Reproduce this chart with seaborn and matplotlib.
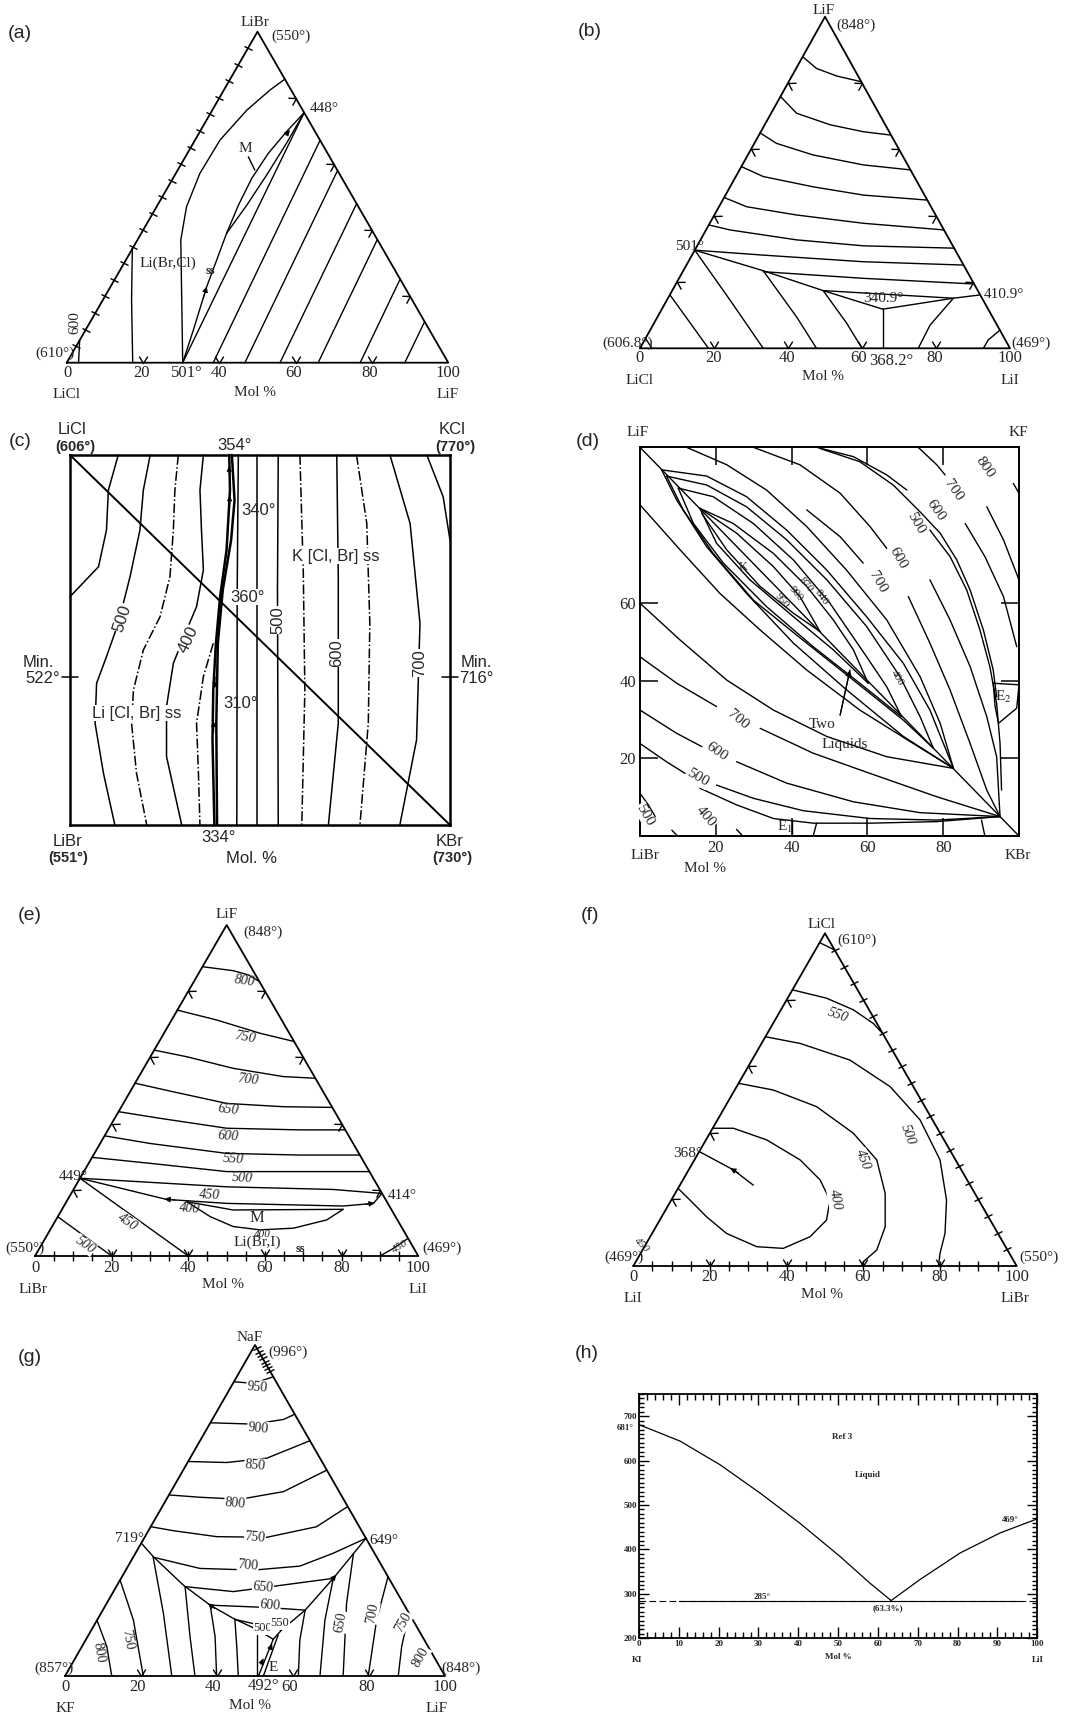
import numpy as np
import matplotlib
matplotlib.use("Agg")
import matplotlib.pyplot as plt
from matplotlib.markers import MarkerStyle
from matplotlib.path import Path
from matplotlib.transforms import Affine2D
from matplotlib.ticker import MultipleLocator
import seaborn as sns

# ---------------------------------------------------------------
# data
# triangle panels: x = % along the base, y = % of the height (apex 50,100)
# square panels: x, y in mol %
# ---------------------------------------------------------------
TRIANGLE = [(0, 0), (100, 0), (50, 100), (0, 0)]
EDGE_20 = [20, 40, 60, 80]
EDGE_5 = [5, 10, 15, 20, 25, 30, 35, 40, 45, 50, 55, 60, 65, 70, 75, 80, 85, 90, 95]

# (a) LiCl - LiBr - LiF
A_ISO_600 = [(3.4, 6.8), (3.1, 0)]
A_ISO_LEFT = [(17.2, 34.5), (17.0, 18.9), (17.3, 0)]
A_ISO_BIG = [(30.4, 0), (29.9, 37.1), (31.4, 47.1), (34.9, 57.2), (40.2, 67.3),
             (47.2, 76.3), (53.3, 82.4), (57.2, 85.7)]
A_SS = [(30.4, 0), (33.2, 9.9), (36.7, 23.0), (39.3, 31.0), (41.9, 39.1)]
A_LENS_L = [(41.9, 39.1), (45.0, 47.6), (48.5, 55.7), (52.8, 63.2), (57.6, 69.8), (62.2, 75.5)]
A_LENS_R = [(41.9, 39.1), (47.2, 47.6), (52.4, 56.7), (57.6, 66.3), (62.2, 75.5)]
A_501_448 = [(30.4, 0), (62.2, 75.5)]
A_PAR_BASE = [38.4, 46.7, 55.9, 65.9, 76.9, 88.6]
A_PAR_TOP = [(66.4, 67.2), (71.0, 58.1), (76.0, 48.1), (81.4, 37.2), (87.4, 25.3), (93.8, 12.4)]
A_M_PTR = [(47.6, 62.2), (49.3, 58.2)]

# (b) LiCl - LiF - LiI
B_ISO = [
    [(44.0, 87.9), (47.7, 84.4), (53.2, 82.1), (59.8, 80.4)],
    [(38.0, 75.9), (42.3, 70.9), (51.4, 67.4), (60.4, 65.3), (67.8, 64.3)],
    [(32.4, 65.0), (36.9, 61.8), (46.8, 58.3), (60.4, 55.3), (73.1, 53.8)],
    [(27.4, 54.8), (33.3, 51.8), (46.8, 48.7), (60.4, 46.2), (77.6, 44.7)],
    [(22.7, 45.5), (28.8, 42.7), (42.3, 40.2), (60.4, 37.7), (82.1, 35.7)],
    [(18.6, 37.2), (24.3, 35.7), (42.3, 32.7), (60.4, 30.9), (84.9, 30.2)],
    [(14.8, 29.6), (33.3, 28.1), (60.4, 26.1), (87.4, 25.1)],
    [(33.3, 23.1), (60.4, 21.1), (90.3, 19.4)],
]
B_VALLEY = [(14.8, 29.6), (33.3, 23.4), (49.5, 17.4), (65.6, 11.8)]
B_UPPER = [(49.5, 17.4), (84.7, 15.1)]
B_LOWER = [(65.6, 11.8), (84.7, 15.1), (91.9, 16.1)]
B_EUT = [(65.6, 11.8), (65.6, 0)]
B_SLANTS = [
    [(8.1, 16.1), (18.5, 0)],
    [(14.8, 29.6), (24.3, 14.6), (33.3, 0)],
    [(33.3, 23.4), (42.3, 9.5), (47.7, 0)],
    [(49.5, 17.4), (55.9, 7.5), (60.0, 0)],
    [(84.7, 15.1), (78.4, 7.0), (75.2, 0)],
    [(97.3, 5.5), (94.1, 2.5), (92.8, 0)],
    [(1.5, 3.0), (3.2, 0)],
]

# (c) LiCl - KCl - LiBr - KBr reciprocal square
C_DIAG = [(0, 100), (100, 0)]
C_SOLID = [
    [(12.7, 100), (10.1, 90.5), (9.6, 79.7), (7.5, 69.8), (0, 61.7)],
    [(21.1, 100), (19.3, 90.5), (18.4, 79.7), (15.8, 67.1), (12.7, 54.5), (9.6, 45.5),
     (7.0, 38.3), (6.6, 27.5), (8.8, 14.0), (11.8, 0)],
    [(35.1, 100), (34.2, 90.5), (34.6, 79.7), (35.1, 68.9), (33.3, 59.0), (30.7, 52.7),
     (27.2, 43.7), (25.4, 32.0), (25.4, 18.5), (29.4, 0)],
    [(44.3, 100), (44.0, 63.5), (43.9, 0)],
    [(49.1, 100), (49.1, 0)],
    [(54.8, 100), (54.6, 63.5), (54.8, 0)],
    [(70.2, 100), (70.6, 67.1), (70.6, 27.5), (68.0, 0)],
    [(84.2, 100), (89.5, 81.5), (92.1, 54.5), (91.2, 23.0), (86.8, 0)],
    [(93.9, 100), (98.2, 88.7), (100, 77.0)],
]
C_DASHDOT = [
    [(28.5, 100), (27.6, 90.5), (27.2, 79.7), (26.3, 67.1), (23.7, 56.3), (19.3, 47.3),
     (16.7, 36.5), (16.2, 27.5), (17.5, 14.0), (20.2, 0)],
    [(37.7, 49.1), (35.1, 40.1), (33.3, 27.5), (33.8, 14.0), (34.2, 0)],
    [(60.5, 100), (61.4, 68.0), (61.8, 36.5), (61.0, 0)],
    [(75.4, 100), (78.1, 81.5), (78.9, 54.5), (78.5, 27.5), (76.3, 0)],
]
C_THICK = [
    [(41.9, 100), (42.1, 90.5), (41.2, 74.3), (39.5, 61.7), (38.4, 49.1), (37.7, 36.5),
     (37.5, 23.0), (38.0, 0)],
    [(42.6, 100), (43.3, 87.8), (42.4, 77.0), (40.2, 63.5), (38.9, 49.1), (38.5, 27.5), (38.7, 0)],
]
C_MIN_Y = 40

# (d) LiF - KF - LiBr - KBr reciprocal square
D_DIAG = [(0, 100), (100, 0)]
D_LENSES = [
    [(5.7, 94.2), (17.6, 92.6), (28.1, 87.3), (38.7, 78.7), (49.3, 68.4), (59.8, 56.4),
     (69.5, 44.4), (76.5, 32.4), (82.7, 17.4)],
    [(5.7, 94.2), (9.7, 86.4), (17.6, 74.4), (28.1, 62.4), (40.5, 49.6), (54.5, 37.6),
     (69.5, 25.6), (82.7, 17.4)],
    [(7.0, 92.6), (17.6, 90.3), (28.1, 84.7), (38.7, 76.2), (49.3, 65.9), (59.8, 53.9),
     (68.6, 41.0), (73.9, 30.7), (77.4, 22.6)],
    [(7.0, 92.6), (11.4, 83.9), (19.3, 72.7), (29.9, 60.7), (42.2, 51.0), (56.3, 40.1),
     (69.5, 29.8), (77.4, 22.6)],
    [(10.1, 89.5), (19.3, 87.3), (29.9, 80.4), (40.5, 71.0), (50.1, 59.9), (59.8, 46.1),
     (65.1, 38.4), (69.0, 30.7)],
    [(10.1, 89.5), (14.1, 80.4), (22.0, 70.2), (33.4, 59.0), (45.7, 48.7), (58.0, 39.3), (69.0, 30.7)],
    [(15.8, 84.3), (24.6, 80.4), (35.2, 72.7), (44.0, 64.2), (51.0, 55.6), (56.3, 47.9), (60.2, 39.3)],
    [(15.8, 84.3), (20.2, 75.3), (29.0, 65.9), (40.5, 56.4), (51.0, 47.9), (60.2, 39.3)],
    [(15.8, 84.3), (25.5, 77.9), (35.2, 69.3), (42.2, 61.6), (47.5, 52.6)],
    [(16.3, 83.0), (22.9, 73.6), (31.7, 64.2), (40.5, 57.3), (47.5, 52.6)],
]
D_LOWER = [
    [(0, 85.2), (10.6, 73.6), (21.1, 62.4), (31.7, 53.0), (44.0, 42.7), (58.0, 32.4),
     (72.1, 23.8), (82.7, 17.4)],
    [(0, 59.9), (10.6, 50.4), (22.9, 40.1), (35.2, 32.4), (49.3, 25.6), (65.1, 20.4), (82.7, 17.4)],
    [(0, 46.1), (9.7, 39.3), (20.2, 33.3)],
    [(31.7, 27.7), (45.7, 21.3), (60.7, 16.1), (78.3, 10.1), (95.0, 5.0)],
    [(0, 32.4), (9.7, 26.4), (16.3, 23.0)],
    [(25.5, 19.1), (38.7, 13.6), (56.3, 8.8), (73.9, 6.0), (95.0, 5.0)],
    [(0, 23.8), (7.0, 19.1), (11.9, 16.1)],
    [(20.2, 13.1), (29.9, 9.7), (43.1, 6.5), (60.7, 4.5), (78.3, 4.1), (95.0, 5.0)],
    [(15.8, 12.3), (25.5, 8.0), (35.2, 4.5), (45.7, 3.3), (60.7, 3.3), (78.3, 3.7), (95.0, 5.0)],
    [(0, 11.0), (2.2, 8.0), (4.0, 5.0)],
    [(8.4, 1.5), (9.9, 0)],
    [(25.5, 1.7), (27.1, 0)],
    [(40.0, 4.1), (40.0, 0)],
    [(46.6, 3.3), (45.7, 0)],
    [(90.1, 4.1), (91.0, 0)],
]
D_UPPER = [
    [(12.3, 100), (22.9, 95.5), (33.4, 89.0), (44.0, 79.6), (54.5, 68.4), (65.1, 55.6),
     (73.9, 41.0), (79.2, 29.0), (82.7, 17.4)],
    [(29.9, 100), (42.2, 95.5), (52.8, 88.2), (60.7, 79.6), (65.1, 74.0)],
    [(76.5, 65.9), (81.8, 55.6), (87.1, 43.6), (91.5, 30.7), (94.1, 20.4), (95.0, 5.0)],
    [(44.0, 83.9), (52.8, 77.0), (58.9, 70.2)],
    [(70.8, 61.6), (76.5, 49.6), (81.8, 37.6), (87.1, 23.8), (91.5, 11.8), (95.0, 5.0)],
    [(46.6, 100), (56.3, 97.6), (65.1, 92.9), (70.4, 89.0)],
    [(76.5, 78.7), (81.8, 71.9), (86.2, 63.3), (89.7, 53.0), (92.3, 43.6), (94.1, 34.1),
     (95.0, 23.8), (95.4, 11.8)],
    [(47.5, 99.7), (58.0, 96.3), (66.8, 90.3), (73.9, 83.4), (79.2, 77.9), (83.6, 71.0),
     (87.1, 63.3), (90.6, 53.0), (93.2, 42.7), (94.1, 35.8)],
    [(73.4, 100), (78.3, 95.5), (80.5, 92.9)],
    [(85.8, 80.4), (91.0, 71.9), (95.9, 61.6), (99.4, 48.7)],
    [(91.5, 84.7), (95.9, 76.2), (100, 65.9)],
    [(98.5, 90.7), (100, 88.2)],
]
D_E2 = [(93.2, 39.3), (100, 38.9), (99.4, 32.9), (94.6, 29.0), (93.7, 33.3), (93.2, 39.3)]
D_ARROW = [(52.8, 31.1), (55.4, 42.7)]

# (e) LiBr - LiF - LiI
E_ISO = [
    [(43.7, 87.4), (51.7, 86.2), (55.7, 84.9), (58.6, 82.9)],
    [(37.1, 74.3), (47.4, 71.3), (58.7, 67.3), (67.6, 64.8)],
    [(31.1, 62.2), (39.6, 60.2), (51.7, 56.7), (64.8, 54.2), (73.1, 53.7)],
    [(26.1, 52.2), (36.1, 49.6), (50.0, 46.1), (64.8, 45.1), (77.5, 44.9)],
    [(21.8, 43.6), (32.6, 41.6), (50.0, 38.6), (69.1, 38.1), (80.9, 38.1)],
    [(18.2, 36.3), (30.0, 34.0), (50.0, 31.0), (69.1, 30.5), (84.8, 30.5)],
    [(14.9, 29.8), (30.0, 28.0), (50.0, 25.5), (69.1, 25.5), (87.3, 25.5)],
]
E_A = [(11.7, 23.5), (50.0, 20.9), (77.8, 20.1), (90.5, 18.9)]
E_B = [(11.7, 23.5), (34.3, 17.1), (50.0, 15.9), (80.4, 15.1), (88.3, 15.9), (90.5, 18.9)]
E_C = [(39.6, 16.4), (51.7, 13.9), (80.4, 14.1)]
E_D = [(39.6, 16.4), (45.7, 11.9), (51.7, 8.9), (58.7, 7.9), (67.4, 8.4), (76.1, 10.9), (80.4, 14.1)]
E_450 = [(11.7, 23.5), (40.0, 0)]
E_500 = [(5.9, 11.9), (20.0, 0)]
E_CORNER = [(90.0, 0), (93.5, 2.3), (97.3, 5.3)]

# (f) LiI - LiCl - LiBr
F_ISO = [
    [(48.6, 97.2), (52.5, 95.0)],
    [(41.5, 83.0), (50.4, 80.5), (57.4, 77.0), (62.6, 72.9), (65.0, 69.9)],
    [(34.5, 68.9), (43.5, 66.9), (56.5, 61.9), (67.0, 53.9), (74.8, 43.9), (80.0, 31.9),
     (81.7, 19.8), (81.3, 9.8), (80.0, 3.8), (79.6, 0)],
    [(27.5, 54.9), (36.5, 52.9), (47.8, 47.9), (57.4, 39.9), (63.5, 31.9), (65.7, 21.8),
     (65.7, 11.8), (63.5, 4.8), (60.0, 1.3), (59.6, 0)],
    [(20.7, 41.4), (26.1, 41.4), (34.8, 37.9), (43.5, 31.9), (48.7, 25.9), (51.3, 19.8),
     (50.4, 13.8), (46.1, 8.8), (39.1, 5.3), (32.2, 5.8), (24.3, 9.8), (19.1, 14.8),
     (14.8, 19.8), (11.7, 23.3)],
]
F_368 = [(17.2, 34.4), (26.1, 28.9), (31.3, 24.3)]

# (g) KF - NaF - LiF
G_ISO = [
    [(44.5, 88.9), (49.6, 88.4), (54.8, 90.4)],
    [(38.3, 76.5), (49.6, 76.1), (57.5, 77.5), (60.5, 79.1)],
    [(32.4, 64.8), (42.5, 64.5), (53.1, 65.8), (64.5, 71.1)],
    [(27.4, 54.7), (35.5, 54.0), (46.1, 53.4), (57.5, 55.7), (68.9, 62.2)],
    [(22.6, 45.1), (28.5, 43.9), (39.9, 42.1), (53.1, 41.9), (66.2, 45.1), (74.4, 51.2)],
    [(23.2, 35.9), (35.5, 32.5), (49.6, 32.0), (61.8, 33.2), (70.6, 37.1), (79.2, 41.6)],
    [(31.6, 27.0), (44.3, 25.5), (57.5, 27.5), (70.6, 29.5)],
    [(38.2, 21.4), (53.1, 20.7), (63.2, 19.9)],
    [(44.7, 17.1), (57.0, 13.9)],
]
G_LEFT_BOUND = [(20.1, 40.1), (23.2, 36.1), (31.1, 27.5), (38.2, 21.4), (44.3, 17.4),
                (50.4, 14.1), (54.8, 11.1)]
G_RIGHT_BOUND = [(79.2, 41.6), (70.6, 29.5), (63.2, 19.9), (57.0, 13.9), (54.8, 11.1)]
G_E_LINES = [[(54.8, 11.1), (50.9, 0)], [(56.1, 12.4), (52.2, 0)]]
G_VERT = [
    [(8.4, 16.9), (11.0, 8.9), (12.3, 0)],
    [(14.5, 29.0), (18.0, 16.9), (20.6, 0)],
    [(23.2, 35.9), (25.9, 18.9), (28.1, 0)],
    [(31.6, 27.0), (32.9, 11.9), (34.2, 0)],
    [(38.2, 21.4), (39.5, 11.9), (39.9, 0)],
    [(44.7, 17.1), (45.2, 8.9), (45.6, 0)],
    [(50.4, 13.9), (50.4, 0)],
    [(63.2, 19.9), (61.8, 10.9), (61.4, 0)],
    [(70.6, 29.5), (68.4, 16.9), (67.1, 0)],
    [(75.9, 36.9), (74.1, 22.0), (73.2, 0)],
    [(85.0, 30.0), (82.0, 16.9), (79.8, 0)],
    [(90.5, 18.9), (88.6, 8.9), (87.7, 0)],
]
G_APEX_TICKS = [92, 93, 94, 95, 96, 97, 98, 99]

# (h) KI - LiI binary
H_LEFT_X = [0, 10.3, 20.3, 30.4, 40.4, 50.5, 58.0, 63.3]
H_LEFT_Y = [681, 644, 591, 527, 459, 384, 324, 285]
H_RIGHT_X = [63.3, 70.5, 80.6, 90.6, 100]
H_RIGHT_Y = [285, 332, 392, 437, 469]
H_EUT_X = [0, 100]
H_EUT_SOLID_X = [10, 95.5]
H_EUT_T = 285

# ---------------------------------------------------------------
sns.set_theme(style="white")
plt.rcParams["font.family"] = ["Liberation Serif", "DejaVu Serif"]
plt.rcParams["mathtext.fontset"] = "stix"

W, H = 1071, 1717
fig = plt.figure(figsize=(W / 100, H / 100), dpi=100)
fig.patch.set_facecolor("white")

SANS = ["Liberation Sans", "DejaVu Sans"]
WB = dict(facecolor="white", edgecolor="none", pad=0.4)
LW = 1.0
V_PATH = Path([(-0.55, 0.9), (0, 0), (0.55, 0.9)], [Path.MOVETO, Path.LINETO, Path.LINETO])


def T(x, y, s, size=11, **kw):
    kw.setdefault("ha", "center")
    kw.setdefault("va", "center")
    fig.text(x / W, 1 - y / H, s, fontsize=size, **kw)


def curve(ax, pts, lw=LW, **kw):
    a = np.asarray(pts, dtype=float)
    sns.lineplot(x=a[:, 0], y=a[:, 1], sort=False, estimator=None, ax=ax,
                 color="black", linewidth=lw, clip_on=False, **kw)


def head(ax, p0, p1, ms=8):
    ax.annotate("", xy=p1, xytext=p0,
                arrowprops=dict(arrowstyle="-|>", color="black", lw=0.8,
                                mutation_scale=ms, shrinkA=0, shrinkB=0))


def marks(ax, edge, pcts, kind, size=7):
    t = np.asarray(pcts, dtype=float) / 100
    if edge == "base":
        x, y, ang = 100 * t, 0 * t, 0
    elif edge == "left":
        x, y, ang = 50 * t, 100 * t, 60
    else:
        x, y, ang = 100 - 50 * t, 100 * t, -60
    if kind == "cross":
        m = MarkerStyle("|", transform=Affine2D().rotate_deg(ang))
    else:
        m = MarkerStyle(V_PATH, transform=Affine2D().rotate_deg(-2 * ang))
        size = 10
    ax.plot(x, y, ls="none", marker=m, ms=size, mec="black", mfc="none", mew=1.0, clip_on=False)


def new_axes(box):
    l, t, r, b = box
    ax = fig.add_axes([l / W, 1 - b / H, (r - l) / W, (b - t) / H])
    ax.set_xlim(0, 100)
    ax.set_ylim(0, 100)
    return ax


def tri_axes(box):
    ax = new_axes(box)
    ax.set_axis_off()
    curve(ax, TRIANGLE, lw=1.3)
    return ax


def finish(ax, lo=0, hi=100):
    ax.set_xlim(0, 100)
    ax.set_ylim(lo, hi)
    ax.set_xlabel("")
    ax.set_ylabel("")


NUM = 12   # size of the mol % numbers under the triangles

# ---------------- (a) ----------------
ax = tri_axes((66.7, 31.7, 448.3, 362.7))
for c in [A_ISO_600, A_ISO_LEFT, A_ISO_BIG, A_SS, A_LENS_L, A_LENS_R, A_501_448, A_M_PTR]:
    curve(ax, c)
for x0, top in zip(A_PAR_BASE, A_PAR_TOP):
    curve(ax, [(x0, 0), top])
head(ax, (35.8, 19.5), (36.7, 23.0))
head(ax, (57.4, 68.8), (58.5, 70.3))
marks(ax, "left", EDGE_5, "cross")
marks(ax, "right", EDGE_20, "arrow")
marks(ax, "base", EDGE_20, "arrow")
finish(ax)
T(20, 33, "(a)", 14, family=SANS)
T(255, 23, "LiBr")
T(291, 36, "(550°)")
T(324, 108, "448°")
T(245, 148, "M")
T(168, 263, "Li(Br,Cl)")
T(210, 271, "ss", 9, weight="bold")
T(55, 353, "(610°)")
T(75, 323, "600", rotation=90)
for xx, s in [(67, "0"), (142, "20"), (187, "501°"), (219, "40"), (294, "60"), (370, "80"), (448, "100")]:
    T(xx, 373, s, NUM)
T(67, 395, "LiCl")
T(255, 392, "Mol %")
T(448, 395, "LiF")

# ---------------- (b) ----------------
ax = tri_axes((640, 16.7, 1010, 348.3))
for c in B_ISO + [B_VALLEY, B_UPPER, B_LOWER, B_EUT] + B_SLANTS:
    curve(ax, c)
marks(ax, "left", EDGE_20, "arrow")
marks(ax, "right", EDGE_20, "arrow")
marks(ax, "base", EDGE_20, "arrow")
finish(ax)
T(590, 32, "(b)", 14, family=SANS)
T(824, 11, "LiF")
T(856, 25, "(848°)")
T(690, 247, "501°")
T(883, 298, "340.9°")
T(1004, 295, "410.9°")
T(628, 343, "(606.8°)")
T(1031, 343, "(469°)")
for xx, s in [(640, "0"), (713, "20"), (787, "40"), (859, "60"), (935, "80"), (1010, "100")]:
    T(xx, 358, s, NUM)
T(891, 361, "368.2°", NUM)
T(640, 381, "LiCl")
T(823, 376, "Mol %")
T(1010, 381, "LiI")

# ---------------- (c) ----------------
ax = new_axes((70, 455, 450, 825))
ax.set_xticks([])
ax.set_yticks([])
for sp in ax.spines.values():
    sp.set_visible(True)
    sp.set_color("black")
    sp.set_linewidth(1.8)
curve(ax, C_DIAG, lw=1.4)
for c in C_SOLID:
    curve(ax, c, lw=1.1)
for c in C_DASHDOT:
    curve(ax, c, lw=1.1, linestyle="-.")
for c in C_THICK:
    curve(ax, c, lw=1.8)
curve(ax, [(-2, C_MIN_Y), (2, C_MIN_Y)], lw=1.1)
curve(ax, [(98, C_MIN_Y), (102, C_MIN_Y)], lw=1.1)
head(ax, (41.9, 95), (41.9, 97), ms=7)
head(ax, (42.0, 86), (42.0, 89), ms=7)
head(ax, (38.2, 40), (38.1, 37), ms=7)
head(ax, (37.8, 25), (37.8, 28), ms=7)
finish(ax)
T(20, 442, "(c)", 14, family=SANS)
CS = dict(family=SANS)
T(72, 429, "LiCl", 12, **CS)
T(75, 447, "(606°)", 10.5, **CS, weight="bold")
T(452, 429, "KCl", 12, **CS)
T(455, 447, "(770°)", 10.5, **CS, weight="bold")
T(235, 446, "354°", 12, **CS)
T(259, 510, "340°", 12, **CS)
T(336, 556, "K [Cl, Br] ss", 12, **CS, bbox=WB)
T(247, 597, "360°", 12, **CS, bbox=WB)
T(122, 618, "500", 12, **CS, rotation=72, bbox=WB)
T(188, 640, "400", 12, **CS, rotation=65, bbox=WB)
T(278, 620, "500", 12, **CS, rotation=90, bbox=WB)
T(337, 653, "600", 12, **CS, rotation=90, bbox=WB)
T(420, 663, "700", 12, **CS, rotation=90, bbox=WB)
T(38, 662, "Min.", 12, **CS)
T(43, 678, "522°", 12, **CS)
T(476, 662, "Min.", 12, **CS)
T(476, 678, "716°", 12, **CS)
T(241, 703, "310°", 12, **CS)
T(137, 713, "Li [Cl, Br] ss", 12, **CS, bbox=WB)
T(68, 841, "LiBr", 12, **CS)
T(219, 838, "334°", 12, **CS)
T(450, 841, "KBr", 12, **CS)
T(68, 858, "(551°)", 10.5, **CS, weight="bold")
T(252, 858, "Mol. %", 12, **CS)
T(452, 858, "(730°)", 10.5, **CS, weight="bold")

# ---------------- (d) ----------------
ax = new_axes((640, 447.3, 1019, 836))
for sp in ax.spines.values():
    sp.set_visible(True)
    sp.set_color("black")
    sp.set_linewidth(1.4)
curve(ax, D_DIAG, lw=1.0)
for c in D_LENSES + D_LOWER + D_UPPER + [D_E2]:
    curve(ax, c, lw=LW)
head(ax, D_ARROW[0], D_ARROW[1], ms=9)
curve(ax, D_ARROW, lw=LW)
ax.set_xticks([20, 40, 60, 80])
ax.set_yticks([20, 40, 60])
ax.tick_params(which="major", direction="in", length=13, width=1.1, color="black",
               bottom=True, top=True, left=True, right=True, labelsize=NUM, pad=3)
finish(ax)
T(588, 442, "(d)", 14, family=SANS)
T(638, 432, "LiF")
T(1018, 432, "KF")
T(985, 467, "800", rotation=-55, bbox=WB)
T(953, 490, "700", rotation=-55, bbox=WB)
T(936, 510, "600", rotation=-55, bbox=WB)
T(916, 523, "500", rotation=-60, bbox=WB)
T(898, 558, "600", rotation=-60, bbox=WB)
T(878, 582, "700", rotation=-60, bbox=WB)
T(743, 567, "K", 9)
T(806, 585, "870", 8, rotation=-50)
T(821, 597, "840", 8, rotation=-55)
T(796, 594, "900", 8, rotation=-50)
T(782, 601, "950", 8, rotation=-50)
T(897, 678, "400", 8, rotation=-60)
T(822, 725, "Two")
T(845, 744, "Liquids")
T(1003, 697, "E$_2$")
T(738, 720, "700", rotation=-40, bbox=WB)
T(717, 752, "600", rotation=-35, bbox=WB)
T(698, 778, "500", rotation=-30, bbox=WB)
T(706, 817, "400", rotation=-50, bbox=WB)
T(645, 815, "500", rotation=-60, bbox=WB)
T(785, 827, "E$_1$")
T(645, 855, "LiBr")
T(705, 868, "Mol %")
T(1018, 855, "KBr")

# ---------------- (e) ----------------
ax = tri_axes((35, 925, 418.3, 1256))
for c in E_ISO + [E_A, E_B, E_C, E_D, E_450, E_500, E_CORNER]:
    curve(ax, c)
head(ax, (36.5, 16.9), (33.8, 17.2))
head(ax, (86.3, 15.6), (88.6, 16.0))
marks(ax, "left", EDGE_20, "arrow")
marks(ax, "right", EDGE_20, "arrow")
marks(ax, "base", EDGE_5, "cross")
marks(ax, "base", EDGE_20, "arrow")
finish(ax)
T(30, 915, "(e)", 14, family=SANS)
T(227, 914, "LiF")
T(263, 932, "(848°)")
for xx, yy, s, r in [(245, 981, "800", -8), (245, 1037, "750", -10), (248, 1080, "700", -6),
                     (228, 1110, "650", -6), (228, 1136, "600", -4), (233, 1159, "550", -3),
                     (242, 1178, "500", -3), (210, 1195, "450", -3), (190, 1208, "400", -5)]:
    T(xx, yy, s, 10, rotation=r, style="italic")
T(257, 1218, "M", 12)
T(262, 1234, "400", 8, style="italic")
T(257, 1242, "Li(Br,I)")
T(300, 1249, "ss", 9, weight="bold")
T(128, 1222, "450", 10, rotation=-35, style="italic", bbox=WB)
T(85, 1245, "500", 10, rotation=-35, style="italic", bbox=WB)
T(400, 1247, "450", 8, rotation=30, style="italic")
T(73, 1177, "449°")
T(402, 1195, "414°")
T(25, 1248, "(550°)")
T(442, 1248, "(469°)")
for xx, s in [(35, "0"), (112, "20"), (188, "40"), (265, "60"), (342, "80"), (418, "100")]:
    T(xx, 1268, s, NUM)
T(33, 1289, "LiBr")
T(223, 1285, "Mol %")
T(418, 1289, "LiI")

# ---------------- (f) ----------------
ax = tri_axes((633.3, 933.3, 1016.7, 1266))
for c in F_ISO + [F_368]:
    curve(ax, c)
head(ax, (27.5, 27.9), (25.3, 29.4))
marks(ax, "left", EDGE_20, "arrow")
marks(ax, "right", EDGE_5, "cross")
marks(ax, "base", EDGE_5, "cross")
marks(ax, "base", EDGE_20, "arrow")
finish(ax)
T(590, 915, "(f)", 14, family=SANS)
T(822, 924, "LiCl")
T(857, 940, "(610°)")
T(838, 1015, "550", 10, rotation=-20, style="italic", bbox=WB)
T(908, 1135, "500", 10, rotation=-70, style="italic", bbox=WB)
T(863, 1160, "450", 10, rotation=-70, style="italic", bbox=WB)
T(835, 1200, "400", 10, rotation=-80, style="italic", bbox=WB)
T(688, 1153, "368°")
T(642, 1245, "450", 8, rotation=-45, style="italic")
T(624, 1257, "(469°)")
T(1039, 1257, "(550°)")
for xx, s in [(633, "0"), (710, "20"), (787, "40"), (863, "60"), (940, "80"), (1017, "100")]:
    T(xx, 1277, s, NUM)
T(633, 1298, "LiI")
T(822, 1294, "Mol %")
T(1015, 1298, "LiBr")

# ---------------- (g) ----------------
ax = tri_axes((65, 1345, 445, 1676))
for c in G_ISO + G_VERT + G_E_LINES + [G_LEFT_BOUND, G_RIGHT_BOUND]:
    curve(ax, c)
head(ax, (70.0, 28.7), (71.4, 30.6))
head(ax, (39.4, 20.4), (37.6, 21.9))
head(ax, (53.9, 8.0), (54.5, 9.8))
head(ax, (51.6, 3.5), (52.2, 5.4))
marks(ax, "base", EDGE_20, "arrow")
marks(ax, "right", G_APEX_TICKS, "cross", size=6)
finish(ax)
T(30, 1357, "(g)", 14, family=SANS)
T(250, 1337, "NaF")
T(288, 1352, "(996°)")
for xx, yy, s in [(257, 1387, "950"), (258, 1428, "900"), (255, 1465, "850"), (235, 1503, "800"),
                  (255, 1537, "750"), (248, 1565, "700"), (263, 1587, "650"), (270, 1605, "600")]:
    T(xx, yy, s, 10, rotation=-5, bbox=WB)
T(263, 1628, "500", 9, bbox=WB)
T(280, 1623, "550", 9, bbox=WB)
T(127, 1640, "750", 10, rotation=-80, bbox=WB)
T(99, 1653, "800", 10, rotation=-80, bbox=WB)
T(341, 1622, "650", 10, rotation=80, bbox=WB)
T(372, 1613, "700", 10, rotation=80, bbox=WB)
T(403, 1622, "750", 10, rotation=60, bbox=WB)
T(421, 1657, "800", 10, rotation=60, bbox=WB)
T(130, 1538, "719°")
T(384, 1540, "649°")
T(273, 1667, "E")
T(263, 1686, "492°", NUM)
T(54, 1668, "(857°)")
T(461, 1668, "(848°)")
for xx, s in [(65, "0"), (137, "20"), (213, "40"), (290, "60"), (367, "80"), (445, "100")]:
    T(xx, 1687, s, NUM)
T(65, 1708, "KF")
T(250, 1705, "Mol %")
T(437, 1708, "LiF")

# ---------------- (h) ----------------
ax = fig.add_axes([639 / W, 1 - 1638.3 / H, (1037.3 - 639) / W, (1638.3 - 1394) / H])
sns.lineplot(x=H_LEFT_X, y=H_LEFT_Y, sort=False, estimator=None, ax=ax, color="black", linewidth=0.9)
sns.lineplot(x=H_RIGHT_X, y=H_RIGHT_Y, sort=False, estimator=None, ax=ax, color="black", linewidth=0.9)
sns.lineplot(x=H_EUT_X, y=[H_EUT_T, H_EUT_T], ax=ax, color="black", linewidth=0.8,
             linestyle=(0, (6, 3)))
sns.lineplot(x=H_EUT_SOLID_X, y=[H_EUT_T, H_EUT_T], ax=ax, color="black", linewidth=0.8)
ax.set_xlim(0, 100)
ax.set_ylim(200, 750)
ax.set_xticks(range(0, 101, 10))
ax.set_yticks(range(200, 701, 100))
ax.xaxis.set_minor_locator(MultipleLocator(2))
ax.yaxis.set_minor_locator(MultipleLocator(10))
ax.tick_params(which="both", direction="in", bottom=True, top=True, left=True, right=True,
               color="black", width=1.0)
ax.tick_params(which="major", length=8, labelsize=6.5, pad=1.5)
ax.tick_params(which="minor", length=4.5)
ax.tick_params(axis="y", which="major", length=7)
ax.tick_params(axis="y", which="minor", length=3.5)
for lab in ax.get_xticklabels() + ax.get_yticklabels():
    lab.set_fontweight("bold")
for sp in ax.spines.values():
    sp.set_visible(True)
    sp.set_color("black")
    sp.set_linewidth(1.3)
ax.set_xlabel("")
ax.set_ylabel("")
T(587, 1353, "(h)", 14, family=SANS)
T(625, 1428, "681°", 6.5, weight="bold")
T(1010, 1520, "469°", 6.5, weight="bold")
T(842, 1437, "Ref 3", 6.5, weight="bold")
T(868, 1475, "Liquid", 6.5, weight="bold")
T(762, 1597, "285°", 6.5, weight="bold")
T(888, 1608, "(63.3%)", 6.5, weight="bold")
T(637, 1660, "KI", 6.5, weight="bold")
T(838, 1657, "Mol %", 6.5, weight="bold")
T(1038, 1660, "LiI", 6.5, weight="bold")

fig.savefig("out.png", dpi=100, facecolor="white")
